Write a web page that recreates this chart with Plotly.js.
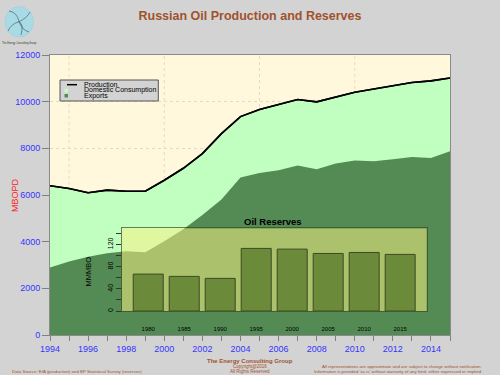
<!DOCTYPE html>
<html>
<head>
<meta charset="utf-8">
<script src="https://cdn.plot.ly/plotly-3.0.1.min.js"></script>
<style>html,body{margin:0;padding:0;background:#d3d3d3;}#chart{width:500px;height:375px;}</style>
</head>
<body>
<div id="chart"></div>
<script>
// ---- data ----
var years = [1994,1995,1996,1997,1998,1999,2000,2001,2002,2003,2004,2005,2006,2007,2008,2009,2010,2011,2012,2013,2014,2015];
var production = [6400,6280,6100,6210,6160,6160,6630,7145,7775,8630,9360,9660,9875,10090,9990,10190,10400,10545,10675,10820,10890,11015];
var exports = [2890,3150,3350,3500,3590,3550,4020,4530,5140,5810,6745,6945,7060,7260,7100,7345,7475,7445,7530,7630,7590,7875];
var reserveYears = ['1980','1985','1990','1995','2000','2005','2010','2015'];
var reserves = [66.5,62.4,58.8,112.8,111.5,103.7,105.5,102];
var gridYears = [1995,2000,2005,2010];
var legendLabels = ['Production','Domestic Consumption','Exports'];

var FONT = 'Liberation Sans, Arial, sans-serif';
var SIENNA = '#a0522d';
var LIGHT = '#c1ffc1';
var DARK = '#548b54';
var BLUE = '#3535ff';
var GRID = '#e2dcc4';

function px(x){return (x-50)/400;}
function py(y){return (335-y)/280;}

var traces = [
  {x: years, y: production, type:'scatter', mode:'lines', fill:'tozeroy', fillcolor: LIGHT,
   line:{color:'#000', width:1.6}, xaxis:'x', yaxis:'y', hoverinfo:'skip'},
  {x: years, y: exports, type:'scatter', mode:'lines', fill:'tozeroy', fillcolor: DARK,
   line:{color: DARK, width:0}, xaxis:'x', yaxis:'y', hoverinfo:'skip'},
  {x: years, y: production, type:'scatter', mode:'lines',
   line:{color:'#000', width:1.6}, xaxis:'x', yaxis:'y', hoverinfo:'skip'},
  // inset background panel
  {x:[0,1,1,0,0], y:[0,0,1,1,0], type:'scatter', mode:'lines', fill:'toself',
   fillcolor:'rgba(250,242,128,0.53)', line:{width:0}, xaxis:'x2', yaxis:'y2', hoverinfo:'skip'},
  // reserves bars
  {x: reserveYears, y: reserves, type:'bar', xaxis:'x3', yaxis:'y3',
   marker:{color:'#6b8a3a', line:{color:'#3b4a22', width:1}}, hoverinfo:'skip'}
];

var insetX = [0.179, 0.942];
var insetY = [0.0857, 0.381];

var shapes = [];
// main panel background
shapes.push({type:'rect', xref:'x domain', yref:'y domain', x0:0, x1:1, y0:0, y1:1, layer:'below',
  fillcolor:'#fff8dc', line:{width:0}});
gridYears.forEach(function(g){
  shapes.push({type:'line', xref:'x', yref:'y', x0:g, x1:g, y0:0, y1:12000, layer:'below',
    line:{color:GRID, width:1, dash:'dot'}});
});
// legend box
shapes.push({type:'rect', xref:'paper', yref:'paper', x0:px(60), x1:px(158.3), y0:py(101), y1:py(80),
  fillcolor:'#d3d3d3', line:{color:'#555', width:1}});
shapes.push({type:'line', xref:'paper', yref:'paper', x0:px(67), x1:px(77), y0:py(84.7), y1:py(84.7),
  line:{color:'#000', width:1.5}});
shapes.push({type:'rect', xref:'paper', yref:'paper', x0:px(64.5), x1:px(68), y0:py(92.3), y1:py(88.8),
  fillcolor:LIGHT, line:{width:0}});
shapes.push({type:'rect', xref:'paper', yref:'paper', x0:px(64.5), x1:px(68), y0:py(97.5), y1:py(94),
  fillcolor:DARK, line:{width:0}});
// logo
shapes.push({type:'circle', xref:'paper', yref:'paper', x0:px(5), x1:px(33.5), y0:py(37), y1:py(6.5),
  fillcolor:'#a9dbe6', line:{color:'#9cc9d6', width:0.5}});
function P(x,y){return px(x)+','+py(y);}
var arms = [
  'M'+P(19,21.7)+' Q'+P(17,12)+' '+P(9,11),
  'M'+P(19,21.7)+' Q'+P(27,18)+' '+P(30,12),
  'M'+P(19,21.7)+' Q'+P(22,30)+' '+P(29,32),
  'M'+P(19,21.7)+' Q'+P(11,24)+' '+P(8,31),
  'M'+P(19,21.7)+' Q'+P(24,24)+' '+P(21,35)
];
arms.forEach(function(a){
  shapes.push({type:'path', xref:'paper', yref:'paper', path:a, line:{color:'#3d4b5a', width:0.6}});
});

var ann = [];
function A(text, x, y, size, color, opts){
  var o = {text:text, x:x, y:y, xref:'paper', yref:'paper', showarrow:false,
    font:{family:FONT, size:size, color:color}, xanchor:'center', yanchor:'middle'};
  for (var k in (opts||{})) o[k]=opts[k];
  ann.push(o);
}
A(legendLabels[0], px(81.5), py(84.5), 7, '#000', {xanchor:'left'});
A(legendLabels[1], px(81.5), py(90.2), 7, '#000', {xanchor:'left'});
A(legendLabels[2], px(81.5), py(95.8), 7, '#000', {xanchor:'left'});
A('MBOPD', px(15), py(195), 9, '#ff2020', {textangle:-90});
A('<b>Oil Reserves</b>', px(273), py(221), 9.5, '#000');
A('MMMBO', px(87.5), py(272), 7.5, '#000', {textangle:-90});
A('<b>The Energy Consulting Group</b>', px(249.5), py(361), 6, SIENNA);
A('Copyright@2016', px(249.5), py(366.3), 4.5, SIENNA);
A('All Rights Reserved', px(249.5), py(371.7), 4.5, SIENNA);
A('Data Source: EIA (production) and BP Statistical Survey (reserves)', px(10), py(371.7), 4.4, SIENNA, {xanchor:'left'});
A('All representations are approximate and are subject to change without notification.', px(483.5), py(366), 4.4, SIENNA, {xanchor:'right'});
A("Information is provided 'as is' without warranty of any kind, either expressed or implied", px(483.5), py(371.7), 4.4, SIENNA, {xanchor:'right'});
A('The Energy Consulting Group', px(19), py(42.7), 2.6, '#333');

var layout = {
  width:500, height:375,
  margin:{l:50, r:50, t:55, b:40, pad:0},
  paper_bgcolor:'#d3d3d3',
  plot_bgcolor:'rgba(0,0,0,0)',
  showlegend:false,
  hovermode:false,
  bargap:0.167,
  font:{family:FONT},
  title:{text:'<b>Russian Oil Production and Reserves</b>', x:0.5, xanchor:'center', y:1-16/375, yanchor:'middle',
    font:{family:FONT, size:12.5, color:SIENNA}},
  xaxis:{range:[1994,2015], tick0:1994, dtick:2, ticks:'outside', ticklen:5, tickcolor:'#808080',
    showgrid:false, zeroline:false, showline:true, mirror:true, linecolor:'#8a8a8a', linewidth:1,
    tickformat:'d', tickfont:{family:FONT, size:9, color:BLUE},
    minor:{dtick:1, tick0:1994, ticks:'outside', ticklen:5, tickcolor:'#808080', showgrid:false}},
  yaxis:{range:[0,12000], dtick:2000, ticks:'outside', ticklen:7, tickcolor:'#808080',
    showgrid:true, gridcolor:GRID, griddash:'dot', zeroline:false, tickformat:'d',
    showline:true, mirror:true, linecolor:'#8a8a8a', linewidth:1,
    tickfont:{family:FONT, size:9, color:BLUE}},
  xaxis2:{domain:insetX, range:[0,1], visible:false, anchor:'y2'},
  yaxis2:{domain:insetY, range:[0,1], visible:false, anchor:'x2'},
  xaxis3:{domain:insetX, type:'category', range:[-0.74,7.74], anchor:'y3', ticks:'',
    showgrid:false, zeroline:false, showline:true, mirror:true, linecolor:'rgba(60,72,30,0.7)', linewidth:1,
    tickfont:{family:FONT, size:6, color:'#000'}, ticklabelstandoff:12},
  yaxis3:{domain:insetY, range:[0,149], anchor:'x3', tickvals:[0,40,80,120], ticks:'outside', ticklen:5,
    tickcolor:'#333', tickangle:-90, showgrid:false, zeroline:false, showline:true, mirror:true,
    linecolor:'rgba(60,72,30,0.7)', linewidth:1, tickfont:{family:FONT, size:7, color:'#000'},
    minor:{dtick:20, tick0:0, ticks:'outside', ticklen:5, tickcolor:'#333', showgrid:false}},
  shapes:shapes,
  annotations:ann
};

Plotly.newPlot('chart', traces, layout, {displayModeBar:false, staticPlot:true});
</script>
</body>
</html>
